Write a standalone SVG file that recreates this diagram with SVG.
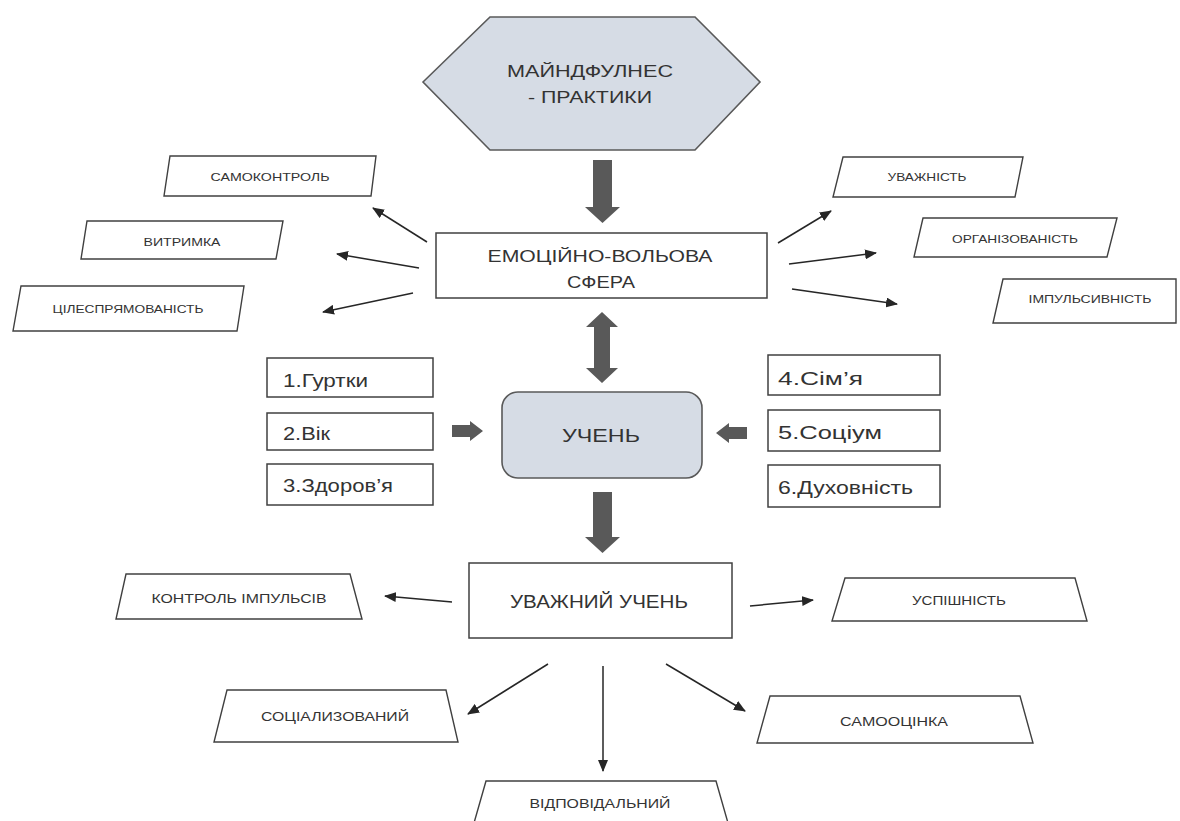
<svg xmlns="http://www.w3.org/2000/svg" width="1180" height="821" viewBox="0 0 1180 821">
<style>
.bg{fill:#ffffff}
.shade{fill:#d6dce5;stroke:#595959;stroke-width:1.6}
.box{fill:#ffffff;stroke:#404040;stroke-width:1.5}
.lbl{fill:#ffffff;stroke:#404040;stroke-width:1.4}
.big{fill:#595959;stroke:none}
.con{stroke:#262626;stroke-width:1.5;fill:none;marker-end:url(#ah)}
.t{font-family:"Liberation Sans",Arial,sans-serif;fill:#333333;text-anchor:middle}
.tm{font-size:17px}
.tb{font-size:19px}
.ts{font-size:11.5px}
.tl{font-size:12.5px}
.tn{font-family:"Liberation Sans",Arial,sans-serif;fill:#333333;font-size:19px}
</style>
<defs>
<marker id="ah" viewBox="0 0 12 10" refX="11" refY="5" markerWidth="12" markerHeight="10" markerUnits="userSpaceOnUse" orient="auto">
<path d="M0,0 L12,5 L0,10 Z" fill="#262626"/>
</marker>
</defs>
<rect class="bg" x="0" y="0" width="1180" height="821"/>

<g id="connectors">
<!-- big block arrows -->
<path class="big" d="M593,160 L612,160 L612,207 L620,207 L602.5,223 L585,207 L593,207 Z"/>
<path class="big" d="M602,312 L618,327 L610,327 L610,368 L618,368 L602,383 L586,368 L594,368 L594,327 L586,327 Z"/>
<path class="big" d="M593,492 L612,492 L612,537 L620,537 L602.5,553 L585,537 L593,537 Z"/>
<path class="big" d="M452,425 L470,425 L470,421 L483,431 L470,441 L470,437 L452,437 Z"/>
<path class="big" d="M747,427 L729,427 L729,423 L716,433 L729,443 L729,439 L747,439 Z"/>
<!-- thin connectors: left of emotional sphere -->
<line class="con" x1="427" y1="242" x2="373" y2="208"/>
<line class="con" x1="419" y1="268" x2="337" y2="254"/>
<line class="con" x1="413" y1="293" x2="323" y2="312"/>
<!-- right of emotional sphere -->
<line class="con" x1="778" y1="243" x2="831" y2="211"/>
<line class="con" x1="789" y1="264" x2="876" y2="253"/>
<line class="con" x1="792" y1="289" x2="897" y2="304"/>
<!-- from attentive pupil -->
<line class="con" x1="452" y1="602" x2="385" y2="596"/>
<line class="con" x1="750" y1="606" x2="813" y2="600"/>
<line class="con" x1="548" y1="664" x2="468" y2="714"/>
<line class="con" x1="603" y1="666" x2="603" y2="771"/>
<line class="con" x1="666" y1="664" x2="745" y2="711"/>
</g>

<g id="mindfulness">
<polygon class="shade" points="423,82 490,17 695,17 760,82 695,150 490,150"/>
<text class="t tm" x="590" y="77" textLength="166" lengthAdjust="spacingAndGlyphs">МАЙНДФУЛНЕС</text>
<text class="t tm" x="590" y="103" textLength="124" lengthAdjust="spacingAndGlyphs">- ПРАКТИКИ</text>
</g>

<g id="emotional-sphere">
<rect class="box" x="436" y="233" width="331" height="65"/>
<text class="t tm" x="600" y="262" textLength="225" lengthAdjust="spacingAndGlyphs">ЕМОЦІЙНО-ВОЛЬОВА</text>
<text class="t tm" x="601" y="288" textLength="68" lengthAdjust="spacingAndGlyphs">СФЕРА</text>
</g>

<g id="samokontrol">
<polygon class="lbl" points="170,156 376,156 371,196 164,196"/>
<text class="t ts" x="270" y="181" textLength="119" lengthAdjust="spacingAndGlyphs">САМОКОНТРОЛЬ</text>
</g>
<g id="vytrymka">
<polygon class="lbl" points="87,221 283,221 276,259 81,259"/>
<text class="t ts" x="182" y="246" textLength="77" lengthAdjust="spacingAndGlyphs">ВИТРИМКА</text>
</g>
<g id="tsilespriamovanist">
<polygon class="lbl" points="21,286 244,286 237,331 13,331"/>
<text class="t ts" x="128" y="313" textLength="151" lengthAdjust="spacingAndGlyphs">ЦІЛЕСПРЯМОВАНІСТЬ</text>
</g>
<g id="uvazhnist">
<polygon class="lbl" points="843,157 1023,157 1015,197 833,197"/>
<text class="t ts" x="927" y="181" textLength="79" lengthAdjust="spacingAndGlyphs">УВАЖНІСТЬ</text>
</g>
<g id="orhanizovanist">
<polygon class="lbl" points="923,218 1117,218 1107,257 914,257"/>
<text class="t ts" x="1015" y="243" textLength="126" lengthAdjust="spacingAndGlyphs">ОРГАНІЗОВАНІСТЬ</text>
</g>
<g id="impulsyvnist">
<polygon class="lbl" points="1003,279 1176,279 1176,323 993,323"/>
<text class="t ts" x="1090" y="303" textLength="123" lengthAdjust="spacingAndGlyphs">ІМПУЛЬСИВНІСТЬ</text>
</g>

<g id="factor-1">
<rect class="box" x="267" y="358" width="166" height="39"/>
<text class="tn" x="283" y="387" textLength="85" lengthAdjust="spacingAndGlyphs">1.Гуртки</text>
</g>
<g id="factor-2">
<rect class="box" x="267" y="413" width="166" height="37"/>
<text class="tn" x="283" y="440" textLength="47" lengthAdjust="spacingAndGlyphs">2.Вік</text>
</g>
<g id="factor-3">
<rect class="box" x="267" y="464" width="166" height="41"/>
<text class="tn" x="283" y="492" textLength="110" lengthAdjust="spacingAndGlyphs">3.Здоров’я</text>
</g>
<g id="factor-4">
<rect class="box" x="768" y="355" width="172" height="40"/>
<text class="tn" x="778" y="385" textLength="85" lengthAdjust="spacingAndGlyphs">4.Сім’я</text>
</g>
<g id="factor-5">
<rect class="box" x="768" y="410" width="172" height="41"/>
<text class="tn" x="778" y="439" textLength="104" lengthAdjust="spacingAndGlyphs">5.Соціум</text>
</g>
<g id="factor-6">
<rect class="box" x="768" y="465" width="172" height="42"/>
<text class="tn" x="778" y="494" textLength="135" lengthAdjust="spacingAndGlyphs">6.Духовність</text>
</g>

<g id="uchen">
<rect class="shade" x="502" y="392" width="200" height="86" rx="16" ry="16"/>
<text class="t tb" x="601" y="442" textLength="78" lengthAdjust="spacingAndGlyphs">УЧЕНЬ</text>
</g>

<g id="uvazhnyi-uchen">
<rect class="box" x="469" y="563" width="263" height="75"/>
<text class="t tb" x="599" y="608" textLength="178" lengthAdjust="spacingAndGlyphs">УВАЖНИЙ УЧЕНЬ</text>
</g>

<g id="kontrol-impulsiv">
<polygon class="lbl" points="126,574 350,574 362,619 116,619"/>
<text class="t tl" x="239" y="603" textLength="175" lengthAdjust="spacingAndGlyphs">КОНТРОЛЬ ІМПУЛЬСІВ</text>
</g>
<g id="uspishnist">
<polygon class="lbl" points="845,578 1075,578 1087,621 832,621"/>
<text class="t tl" x="959" y="605" textLength="94" lengthAdjust="spacingAndGlyphs">УСПІШНІСТЬ</text>
</g>
<g id="sotsializovanyi">
<polygon class="lbl" points="227,690 446,690 458,742 214,742"/>
<text class="t tl" x="335" y="721" textLength="148" lengthAdjust="spacingAndGlyphs">СОЦІАЛИЗОВАНИЙ</text>
</g>
<g id="samootsinka">
<polygon class="lbl" points="770,696 1020,696 1033,743 757,743"/>
<text class="t tl" x="894" y="726" textLength="108" lengthAdjust="spacingAndGlyphs">САМООЦІНКА</text>
</g>
<g id="vidpovidalnyi">
<polygon class="lbl" points="486,781 716,781 730,830 472,830"/>
<text class="t tl" x="600" y="808" textLength="141" lengthAdjust="spacingAndGlyphs">ВІДПОВІДАЛЬНИЙ</text>
</g>
</svg>
